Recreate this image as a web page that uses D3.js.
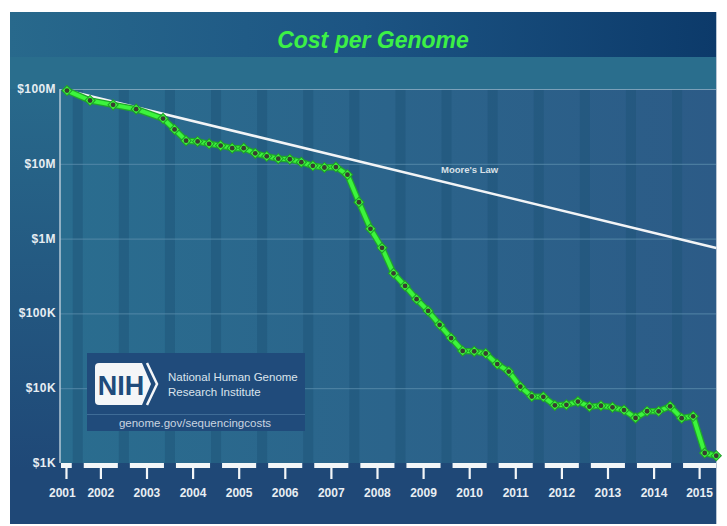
<!DOCTYPE html>
<html>
<head>
<meta charset="utf-8">
<script src="https://cdn.jsdelivr.net/npm/d3@7"></script>
<style>
html, body { margin: 0; padding: 0; background: #fff; }
svg { display: block; font-family: "Liberation Sans", Arial, sans-serif; }
</style>
</head>
<body>
<svg id="chart" width="727" height="526"></svg>
<script>
// cost per genome (US$)
const dates = ["2001-09","2002-03","2002-09","2003-03","2003-10","2004-01","2004-04","2004-07","2004-10",
  "2005-01","2005-04","2005-07","2005-10","2006-01","2006-04","2006-07","2006-10","2007-01","2007-04",
  "2007-07","2007-10","2008-01","2008-04","2008-07","2008-10","2009-01","2009-04","2009-07","2009-10",
  "2010-01","2010-04","2010-07","2010-10","2011-01","2011-04","2011-07","2011-10","2012-01","2012-04",
  "2012-07","2012-10","2013-01","2013-04","2013-07","2013-10","2014-01","2014-04","2014-07","2014-10",
  "2015-01","2015-04","2015-07","2015-10"];
const costs = [95300000, 70200000, 61400000, 53800000, 40200000, 28800000, 20400000, 19900000, 18500000,
  17500000, 16200000, 16200000, 13800000, 12600000, 11700000, 11500000, 10500000, 9410000, 8930000,
  9050000, 7150000, 3060000, 1350000, 752000, 343000, 233000, 155000, 108000, 70300,
  46800, 31500, 31100, 29100, 21000, 16700, 10500, 7740, 7670, 5900,
  5990, 6620, 5670, 5830, 5550, 5100, 4010, 4920, 4910, 5730,
  3970, 4210, 1360, 1250];

// Moore's law reference line (end points)
const mooreDates = ["2001-09", "2015-10"];
const mooreCosts = [95300000, 750000];

const years = d3.range(2001, 2016);
const yTickValues = [1e3, 1e4, 1e5, 1e6, 1e7, 1e8];
const yTickLabels = ["$1K", "$10K", "$100K", "$1M", "$10M", "$100M"];

function toYear(s) {
    const [y, m] = s.split("-").map(Number);
    return y + (m - 1) / 12;
}

const svg = d3.select("#chart");
const plot = { left: 60, right: 716, top: 89, bottom: 463 };

const x = d3.scaleLinear()
    .domain([2001.515, 2015.745])
    .range([plot.left, plot.right]);

const y = d3.scaleLog()
    .domain([1e3, 1e8])
    .range([plot.bottom, plot.top]);

const defs = svg.append("defs");

const bgGrad = defs.append("linearGradient").attr("id", "bgGrad")
    .attr("gradientUnits", "userSpaceOnUse")
    .attr("x1", 0).attr("y1", 89).attr("x2", 0).attr("y2", 470);
bgGrad.append("stop").attr("offset", 0).attr("stop-color", "#28698b");
bgGrad.append("stop").attr("offset", 1).attr("stop-color", "#1f4877");

const titleGrad = defs.append("linearGradient").attr("id", "titleGrad")
    .attr("gradientUnits", "userSpaceOnUse")
    .attr("x1", 10).attr("y1", 0).attr("x2", 717).attr("y2", 0);
titleGrad.append("stop").attr("offset", 0).attr("stop-color", "#28698c");
titleGrad.append("stop").attr("offset", 0.5).attr("stop-color", "#1c5483");
titleGrad.append("stop").attr("offset", 1).attr("stop-color", "#0c3a6a");

const plotGrad = defs.append("linearGradient").attr("id", "plotGrad")
    .attr("gradientUnits", "userSpaceOnUse")
    .attr("x1", plot.left).attr("y1", 0).attr("x2", plot.right).attr("y2", 0);
plotGrad.append("stop").attr("offset", 0).attr("stop-color", "#2a6d8f");
plotGrad.append("stop").attr("offset", 1).attr("stop-color", "#2c5b87");

// 背景
svg.append("rect").attr("x", 10).attr("y", 12).attr("width", 707).attr("height", 512)
    .attr("fill", "url(#bgGrad)");
svg.append("rect").attr("x", 10).attr("y", 12).attr("width", 707).attr("height", 45)
    .attr("fill", "url(#titleGrad)");
svg.append("rect").attr("x", 10).attr("y", 57).attr("width", 707).attr("height", 32)
    .attr("fill", "#2a6e8d");

svg.append("rect")
    .attr("x", plot.left).attr("y", plot.top)
    .attr("width", plot.right - plot.left).attr("height", plot.bottom - plot.top)
    .attr("fill", "url(#plotGrad)");

// darker stripes at the year boundaries
svg.append("g").selectAll("rect")
    .data(years.slice(1))
    .join("rect")
    .attr("x", d => x(d - 0.1) - 5)
    .attr("y", plot.top)
    .attr("width", 10)
    .attr("height", plot.bottom - plot.top)
    .attr("fill", "#1d5478")
    .attr("opacity", 0.5);

// gridlines
svg.append("g").selectAll("line")
    .data(yTickValues)
    .join("line")
    .attr("x1", plot.left).attr("x2", plot.right)
    .attr("y1", d => y(d) + 0.5).attr("y2", d => y(d) + 0.5)
    .attr("stroke", d => d === 1e8 ? "#8fb1c6" : "#5d8fae")
    .attr("stroke-width", 1)
    .attr("opacity", d => d === 1e3 ? 0 : 0.8);

svg.append("line")
    .attr("x1", plot.left).attr("x2", plot.left)
    .attr("y1", plot.top).attr("y2", plot.bottom)
    .attr("stroke", "#b4c8d6").attr("stroke-width", 1.5);

svg.append("line")
    .attr("x1", 716.5).attr("x2", 716.5).attr("y1", 12).attr("y2", 524)
    .attr("stroke", "#b8c6d4").attr("stroke-width", 1);

// y labels
svg.append("g").selectAll("text")
    .data(yTickValues)
    .join("text")
    .attr("x", 56)
    .attr("y", d => y(d) + 4)
    .attr("text-anchor", "end")
    .attr("fill", "#e6edf2")
    .style("font-size", "12px")
    .style("font-weight", "bold")
    .style("letter-spacing", "0.4px")
    .text((d, i) => yTickLabels[i]);

// x axis: white boxes per year with tick stems
const bands = years.map(yr => {
    const a = Math.max(plot.left + 1, x(yr - 0.1) + 6);
    const b = Math.min(plot.right, x(yr + 0.9) - 6);
    return { year: yr, a, b, c: (a + b) / 2 };
});

const xg = svg.append("g");
xg.selectAll("rect.box")
    .data(bands)
    .join("rect")
    .attr("class", "box")
    .attr("x", d => d.a).attr("y", plot.bottom)
    .attr("width", d => d.b - d.a).attr("height", 5)
    .attr("fill", "#f3f6f8");
xg.selectAll("rect.stem")
    .data(bands)
    .join("rect")
    .attr("class", "stem")
    .attr("x", d => d.c - 1).attr("y", plot.bottom + 5)
    .attr("width", 2.2).attr("height", 11)
    .attr("fill", "#f3f6f8");
xg.selectAll("text")
    .data(bands)
    .join("text")
    .attr("x", d => d.year === 2001 ? d.c - 4 : d.c)
    .attr("y", 497)
    .attr("text-anchor", "middle")
    .attr("fill", "#e8eef3")
    .style("font-size", "12px")
    .style("font-weight", "bold")
    .text(d => d.year);

// NIH box
const nih = svg.append("g");
nih.append("rect").attr("x", 87).attr("y", 353).attr("width", 218).attr("height", 78)
    .attr("fill", "#204b7b");
nih.append("line").attr("x1", 87).attr("x2", 305).attr("y1", 414.5).attr("y2", 414.5)
    .attr("stroke", "#3f6c97").attr("stroke-width", 1);
nih.append("path")
    .attr("d", "M99,363 H142 L151,384 L142,405 H99 Q95,405 95,401 V367 Q95,363 99,363 Z")
    .attr("fill", "#f4f6f8");
nih.append("path")
    .attr("d", "M147,363 L157,384 L147,405")
    .attr("fill", "none").attr("stroke", "#f4f6f8").attr("stroke-width", 2.5);
nih.append("text").attr("x", 121).attr("y", 395).attr("text-anchor", "middle")
    .attr("fill", "#204b7b").style("font-size", "27px").style("font-weight", "bold")
    .text("NIH");
nih.append("text").attr("x", 168).attr("y", 381).attr("fill", "#dbe4ec")
    .style("font-size", "11.5px").text("National Human Genome");
nih.append("text").attr("x", 168).attr("y", 396).attr("fill", "#dbe4ec")
    .style("font-size", "11.5px").text("Research Institute");
nih.append("text").attr("x", 195).attr("y", 427).attr("text-anchor", "middle").attr("fill", "#c9d5e0")
    .style("font-size", "11.5px").text("genome.gov/sequencingcosts");

// Moore's law
const moore = mooreDates.map((d, i) => ({ t: toYear(d), v: mooreCosts[i] }));
const line = d3.line().x(d => x(d.t)).y(d => y(d.v));

svg.append("path")
    .datum(moore)
    .attr("fill", "none")
    .attr("stroke", "#f2f4f6")
    .attr("stroke-width", 2.5)
    .attr("d", line);

const labelT = 2010.4;
const labelV = Math.exp(d3.interpolateNumber(Math.log(moore[0].v), Math.log(moore[1].v))((labelT - moore[0].t) / (moore[1].t - moore[0].t)));
svg.append("text")
    .attr("x", x(labelT))
    .attr("y", y(labelV) - 15)
    .attr("text-anchor", "middle")
    .attr("fill", "#d9e1e8")
    .style("font-size", "9.5px")
    .style("font-weight", "bold")
    .text("Moore's Law");

// cost series
const series = dates.map((d, i) => ({ t: toYear(d), v: costs[i] }));

svg.append("path")
    .datum(series)
    .attr("fill", "none")
    .attr("stroke", "#1fa82a")
    .attr("stroke-width", 6.5)
    .attr("stroke-linejoin", "round")
    .attr("d", line);
svg.append("path")
    .datum(series)
    .attr("fill", "none")
    .attr("stroke", "#3cf53c")
    .attr("stroke-width", 4)
    .attr("stroke-linejoin", "round")
    .attr("d", line);

const marks = svg.append("g").selectAll("g")
    .data(series)
    .join("g")
    .attr("transform", d => `translate(${x(d.t)},${y(d.v)})`);
marks.append("rect")
    .attr("x", -3.6).attr("y", -3.6).attr("width", 7.2).attr("height", 7.2)
    .attr("transform", "rotate(45)")
    .attr("fill", "#3cf53c")
    .attr("stroke", "#1f9d28")
    .attr("stroke-width", 1);
marks.append("circle")
    .attr("r", 2.4)
    .attr("fill", "#3a3d32");

// title
svg.append("text")
    .attr("x", 373)
    .attr("y", 48)
    .attr("text-anchor", "middle")
    .attr("fill", "#3cf046")
    .style("font-size", "23px")
    .style("font-weight", "bold")
    .style("font-style", "italic")
    .text("Cost per Genome");
</script>
</body>
</html>
